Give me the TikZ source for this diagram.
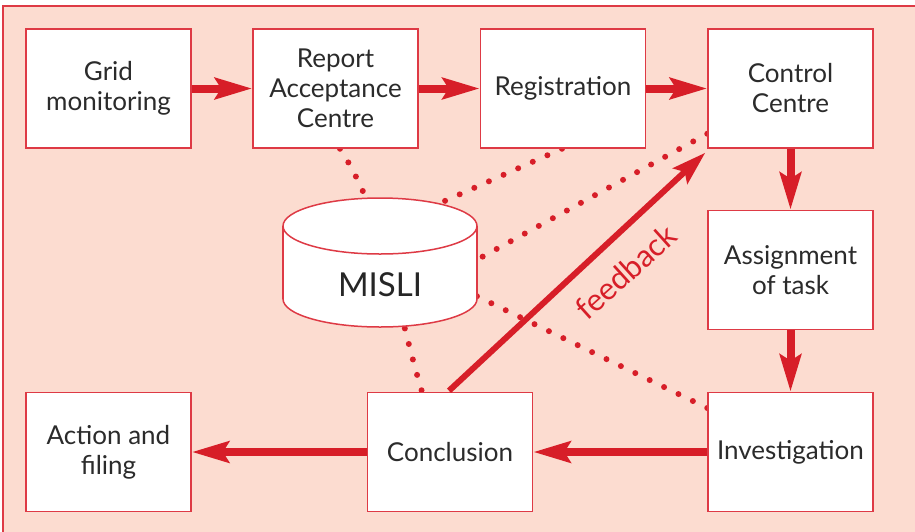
\documentclass[tikz,border=0pt]{standalone}
\usepackage{fontspec}
\setmainfont{Lato}
\usetikzlibrary{arrows.meta,calc}
\definecolor{bgpink}{HTML}{FCDCD0}
\definecolor{mred}{HTML}{D71E28}
\definecolor{bred}{HTML}{DE3A45}
\definecolor{txt}{HTML}{2B2B2B}
\pgfdeclarelayer{bg}
\pgfsetlayers{bg,main}
\begin{document}
\begin{tikzpicture}[x=1pt,y=-1pt,
  box/.style={draw=bred, line width=1.5pt, fill=white, minimum width=165pt,
    minimum height=119pt, align=center, text=txt, inner sep=0pt,
    font=\fontsize{26}{30}\selectfont},
  flow/.style={draw=mred, line width=8pt, -{Stealth[length=37pt,width=21pt,inset=6pt]}},
  fback/.style={draw=mred, line width=6pt, -{Stealth[length=34pt,width=21pt,inset=6pt]}},
  dots/.style={draw=mred, line width=6pt, line cap=round, dash pattern=on 0pt off 16pt},
  cyl/.style={draw=bred, line width=1.5pt}
]
\useasboundingbox (0,0) rectangle (915,531);
\begin{pgfonlayer}{bg}
\fill[white] (0,0) rectangle (915,531);
\draw[draw=bred, line width=1.3pt, fill=bgpink] (3,6) rectangle (930,545);
\end{pgfonlayer}

\node[box] (grid) at (108.5,88.5) {Grid\\monitoring};
\node[box] (rac)  at (335.5,88.5) {Report\\Acceptance\\Centre};
\node[box] (reg)  at (563,88.5)   {Registration};
\node[box] (cc)   at (790.5,88.5) {Control\\Centre};
\node[box] (ass)  at (790.5,270)  {Assignment\\of task};
\node[box] (inv)  at (790.5,452)  {Investigation};
\node[box] (conc) at (450,452)    {Conclusion};
\node[box] (act)  at (108.5,452)  {Action and\\filing};

\coordinate (m1) at (420,212);
\coordinate (m2) at (460,269);
\coordinate (m3) at (460,288);

\begin{pgfonlayer}{bg}
\draw[dots] ([xshift=4.5pt]rac.south) .. controls (385,218) and (395,302) .. ([xshift=-28pt]conc.north);
\draw[dots] ([xshift=-1pt]reg.south) -- (m1);
\draw[dots] ([yshift=15pt]cc.south west) -- (m2);
\draw[dots] ([yshift=44pt]inv.west) -- (m3);
\end{pgfonlayer}

% cylinder
\fill[white] (283,226) rectangle (477,299);
\draw[cyl, fill=white] (380,299) ellipse [x radius=97, y radius=28];
\fill[white] (283,226) rectangle (477,299);
\draw[cyl] (283,226) -- (283,299) (477,226) -- (477,299);
\draw[cyl, fill=white] (380,226) ellipse [x radius=97, y radius=28];
\node[text=black!85, font=\fontsize{33}{33}\selectfont, inner sep=0pt] (misli) at (380,285) {MISLI};

\draw[flow] (grid) -- (rac);
\draw[flow] (rac) -- (reg);
\draw[flow] (reg) -- (cc);
\draw[flow] (cc) -- (ass);
\draw[flow] (ass) -- (inv);
\draw[flow] (inv) -- (conc);
\draw[flow] (conc) -- (act);

\draw[fback] ([xshift=-1pt,yshift=1pt]conc.north) -- ($(cc.south west)+(-2,4)$);
\node[text=mred, rotate=42, font=\fontsize{31}{31}\selectfont, inner sep=0pt] (fb) at (626,272) {feedback};
\end{tikzpicture}
\end{document}
